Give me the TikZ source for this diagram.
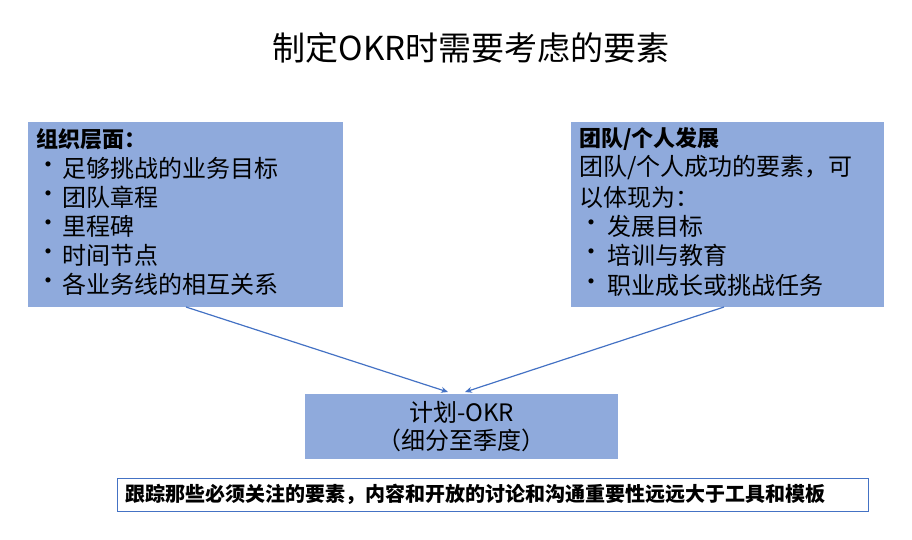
\documentclass[tikz,border=0pt]{standalone}
\usepackage{fontspec}
\usetikzlibrary{arrows.meta}
\setmainfont{Noto Sans CJK SC}
\definecolor{boxfill}{HTML}{8FAADC}
\definecolor{arr}{HTML}{4472C4}
\begin{document}
\begin{tikzpicture}[x=1pt,y=-1pt,
  box/.style={fill=boxfill,draw=none},
  txt/.style={anchor=west,inner sep=0pt,font=\fontsize{24}{28}\selectfont},
  conn/.style={draw=arr,line width=1.2pt,-{Stealth[length=7pt,width=6pt]}}]
\useasboundingbox (0,0) rectangle (912,539);
\node[font=\fontsize{33}{36}\selectfont] (title) at (471,48) {制定OKR时需要考虑的要素};
\path[box] (28,122) rectangle (343,307);
\coordinate (L) at (186,307);
\node[txt,font=\fontsize{22}{26}\selectfont\bfseries] (l0) at (36,139) {组织层面：};
\foreach \t [count=\i] in {足够挑战的业务目标,团队章程,里程碑,时间节点,各业务线的相互关系}{
  \node[txt] (lb\i) at (36,139+29*\i) {•};
  \node[txt] (l\i) at (62,139+29*\i) {\t};
}
\path[box] (571,122) rectangle (884,307);
\coordinate (R) at (724,307);
\node[txt,font=\fontsize{22}{26}\selectfont\bfseries] (r0) at (579,139) {团队/个人发展};
\node[txt] (r1) at (579,168) {团队/个人成功的要素，可};
\node[txt] (r2) at (579,197) {以体现为：};
\node[txt] (rb3) at (579,226) {•}; \node[txt] (r3) at (607,226) {发展目标};
\node[txt] (rb4) at (579,255) {•}; \node[txt] (r4) at (607,255) {培训与教育};
\node[txt] (rb5) at (579,285) {•}; \node[txt] (r5) at (607,285) {职业成长或挑战任务};
\node[box,minimum width=313pt,minimum height=65pt,align=center,font=\fontsize{24}{28}\selectfont] (c) at (461.5,426.5) {计划-OKR\\（细分至季度）};
\coordinate (cl) at (448,392);
\coordinate (cr) at (465,392);
\draw[conn] (L) -- (cl);
\draw[conn] (R) -- (cr);
\node[draw=arr,line width=1pt,fill=white,minimum width=751pt,minimum height=33pt] (b) at (492.5,494.5) {};
\node[anchor=west,inner sep=0pt,font=\fontsize{20}{22}\selectfont\bfseries] (bt) at (125,494.5) {跟踪那些必须关注的要素，内容和开放的讨论和沟通重要性远远大于工具和模板};
\end{tikzpicture}
\end{document}
